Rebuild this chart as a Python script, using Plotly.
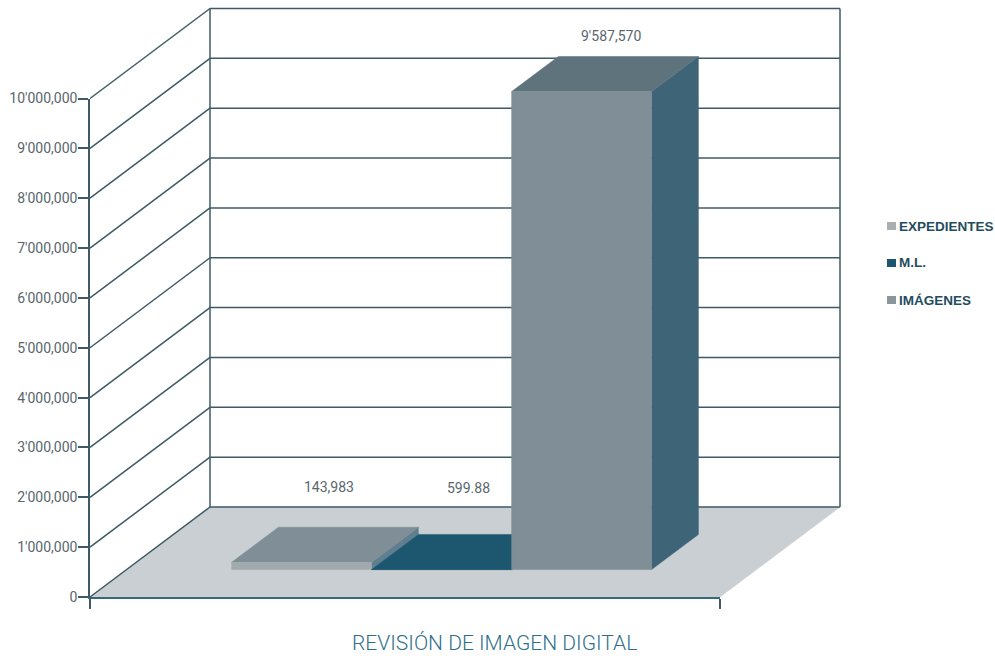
import plotly.graph_objects as go

# data
series = ['EXPEDIENTES', 'M.L.', 'IMÁGENES']
values = [143983, 599.88, 9587570]
value_labels = ['143,983', '599.88', "9'587,570"]
tick_values = [0, 1000000, 2000000, 3000000, 4000000, 5000000, 6000000, 7000000, 8000000, 9000000, 10000000]
tick_labels = ['0', "1'000,000", "2'000,000", "3'000,000", "4'000,000", "5'000,000",
               "6'000,000", "7'000,000", "8'000,000", "9'000,000", "10'000,000"]
x_title = 'REVISIÓN DE IMAGEN DIGITAL'

# colours of each bar: front, top, side
front_colors = ['#a3aaae', '#1d566f', '#7f8e97']
top_colors = ['#7f8e97', '#1d566f', '#5f737d']
side_colors = ['#5f7f90', '#1d566f', '#3e6477']
legend_colors = ['#a9aeb0', '#1d566f', '#8a959c']
line_color = '#3f5a66'
floor_color = '#c9cfd2'

# page layout in pixels
W, H = 995, 656
ORIGIN_X, ORIGIN_Y = 90, 597   # where value 0 meets the front left corner
PAD = 4                        # spare room round the walls so no line gets clipped
PLOT_L, PLOT_R, PLOT_T, PLOT_B = ORIGIN_X - PAD, 844, 4, ORIGIN_Y + PAD
PLOT_W, PLOT_H = PLOT_R - PLOT_L, PLOT_B - PLOT_T
PX_PER_X = 210.0          # one x unit
PX_PER_Y = 49.85e-6       # pixels per unit of value
DEPTH_PX_X, DEPTH_PX_Y = 120, 90
X_MAX = 3.0

# oblique depth offset in axis units
dx = DEPTH_PX_X / PX_PER_X
dy = DEPTH_PX_Y / PX_PER_Y

def project(x, y, depth):
    return x + depth * dx, y + depth * dy

def paper_x(px):
    return (px - PLOT_L) / PLOT_W

def paper_y(px):
    return 1 - (px - PLOT_T) / PLOT_H

def poly(points, color):
    xs, ys = zip(*[project(*p) for p in points])
    return go.Scatter(x=list(xs) + [xs[0]], y=list(ys) + [ys[0]], mode='lines', fill='toself',
                      fillcolor=color, line=dict(color=color, width=0.5),
                      hoverinfo='skip', showlegend=False)

def lines(segments, width=1.5):
    xs, ys = [], []
    for a, b in segments:
        ax, ay = project(*a)
        bx, by = project(*b)
        xs += [ax, bx, None]
        ys += [ay, by, None]
    return go.Scatter(x=xs, y=ys, mode='lines', line=dict(color=line_color, width=width),
                      hoverinfo='skip', showlegend=False)

fig = go.Figure()

# floor
fig.add_trace(poly([(0, 0, 0), (0, 0, 1), (X_MAX, 0, 1), (X_MAX, 0, 0)], floor_color))

# walls and grid
top_value = tick_values[-1]
segs = []
for v in tick_values:
    segs.append(((0, v, 0), (0, v, 1)))
    segs.append(((0, v, 1), (X_MAX, v, 1)))
segs.append(((0, 0, 1), (0, top_value, 1)))
segs.append(((X_MAX, 0, 1), (X_MAX, top_value, 1)))
fig.add_trace(lines(segs))

# bars, left to right so that each one covers the side of the last
BAR_START, BAR_W = 0.5, 2.0 / 3
D0, D1 = 0.305, 0.695
for i, v in enumerate(values):
    x0 = BAR_START + i * BAR_W
    x1 = x0 + BAR_W
    fig.add_trace(poly([(x1, 0, D0), (x1, 0, D1), (x1, v, D1), (x1, v, D0)], side_colors[i]))
    fig.add_trace(poly([(x0, v, D0), (x0, v, D1), (x1, v, D1), (x1, v, D0)], top_colors[i]))
    fig.add_trace(poly([(x0, 0, D0), (x1, 0, D0), (x1, v, D0), (x0, v, D0)], front_colors[i]))

# the real front axes live on a second pair that stops at the front face
fig.add_trace(go.Scatter(x=[0, X_MAX], y=[0, top_value], xaxis='x2', yaxis='y2', mode='markers',
                         marker=dict(opacity=0), hoverinfo='skip', showlegend=False))

# value labels, lifted above each bar's top
label_lift = [58, 64, 38]
label_nudge = [4, 3, 6]
for i, v in enumerate(values):
    lx, ly = project(BAR_START + (i + 0.5) * BAR_W, v, 0.5)
    fig.add_annotation(x=lx, y=ly, text=value_labels[i], showarrow=False,
                       xshift=label_nudge[i], yshift=label_lift[i],
                       font=dict(family='Roboto', size=14, color='#59666c'))

# x title
fig.add_annotation(xref='paper', yref='paper', x=paper_x(494), y=paper_y(643), yanchor='middle',
                   text=x_title, showarrow=False,
                   font=dict(family='Roboto', size=21, color='#2f6f8a', weight=300))

# legend drawn by hand, the built-in one cannot put the swatch this close to the text
legend_rows = [226, 263, 300]
for name, color, row in zip(series, legend_colors, legend_rows):
    fig.add_shape(type='rect', xref='paper', yref='paper', line=dict(width=0),
                  x0=paper_x(887), x1=paper_x(896),
                  y0=paper_y(row + 4), y1=paper_y(row - 4),
                  fillcolor=color)
    fig.add_annotation(xref='paper', yref='paper', x=paper_x(897), y=paper_y(row),
                       xanchor='left', yanchor='middle', text=name, showarrow=False,
                       font=dict(family='Liberation Sans', size=13.5, color='#1f4c5e', weight='bold'))

fig.update_layout(
    width=W, height=H, margin=dict(l=PLOT_L, t=PLOT_T, r=W - PLOT_R, b=H - PLOT_B),
    paper_bgcolor='white', plot_bgcolor='rgba(0,0,0,0)', showlegend=False,
    xaxis=dict(range=[-PAD / PX_PER_X, (PLOT_R - ORIGIN_X) / PX_PER_X], visible=False, automargin=False),
    yaxis=dict(range=[-PAD / PX_PER_Y, (ORIGIN_Y - PLOT_T) / PX_PER_Y], visible=False, automargin=False),
    xaxis2=dict(domain=[PAD / PLOT_W, (PAD + X_MAX * PX_PER_X) / PLOT_W], range=[0, X_MAX], anchor='y2',
                showgrid=False, zeroline=False, showline=True, linecolor='#39687a', linewidth=2,
                tickmode='array', tickvals=[0, X_MAX], ticktext=['', ''], automargin=False,
                ticks='outside', ticklen=10, tickwidth=1.5, tickcolor=line_color),
    yaxis2=dict(domain=[PAD / PLOT_H, (PAD + top_value * PX_PER_Y) / PLOT_H], range=[0, top_value], anchor='x2',
                showgrid=False, zeroline=False, showline=True, linecolor=line_color, linewidth=1.5,
                tickmode='array', tickvals=tick_values, ticktext=tick_labels, automargin=False,
                ticks='outside', ticklen=10, tickwidth=1.5, tickcolor=line_color, ticklabelstandoff=-2,
                tickfont=dict(family='Roboto', size=14, color='#59666c')),
)

fig.write_html('out.html', config={'displayModeBar': False},
               post_script="document.body.style.margin='0';")
